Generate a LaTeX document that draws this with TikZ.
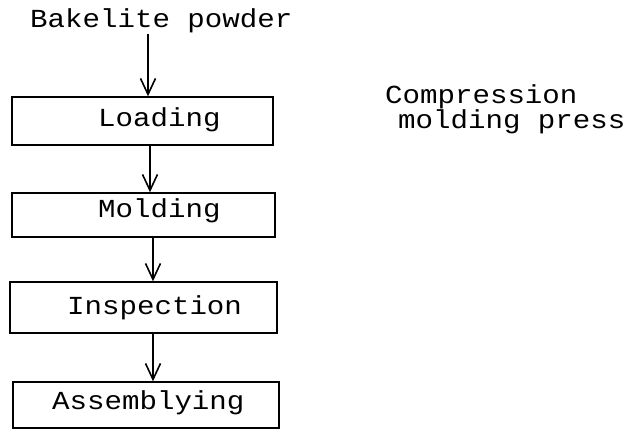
\documentclass[tikz,border=0pt]{standalone}
\usepackage{fontspec}
\setmainfont[FakeStretch=1.12]{Liberation Mono}
\usetikzlibrary{arrows.meta}
\begin{document}
\begin{tikzpicture}[x=1pt,y=-1pt,
  box/.style={draw, line width=1.4pt, inner sep=0pt},
  lbl/.style={anchor=base west, inner sep=0pt, font=\fontsize{26}{30}\selectfont},
  flow/.style={-{Straight Barb[length=16pt,width=15pt]}, line width=1.6pt}]
\useasboundingbox (0,0) rectangle (641,430);
% boxes
\node[box, minimum width=261pt, minimum height=48pt] (load) at (142.5,121) {};
\node[box, minimum width=263pt, minimum height=44pt] (mold) at (143.5,215) {};
\node[box, minimum width=267pt, minimum height=51pt] (insp) at (143.5,307.5) {};
\node[box, minimum width=266pt, minimum height=46pt] (asm) at (146,405) {};
% texts
\node[lbl] (bak) at (30,28) {Bakelite powder};
\node[lbl] (tload) at (98,127) {Loading};
\node[lbl] (tmold) at (98,218) {Molding};
\node[lbl] (tinsp) at (67,315) {Inspection};
\node[lbl] (tasm) at (52,410) {Assemblying};
\node[lbl, align=left, font=\fontsize{26}{22}\selectfont] (comp) at (385,129)
  {Compression\\\hspace*{13pt}molding press};
% arrows
\draw[flow] (bak.south -| 148,0) -- (load.north -| 148,0);
\draw[flow] (load.south -| 150,0) -- (mold.north -| 150,0);
\draw[flow] (mold.south -| 153,0) -- (insp.north -| 153,0);
\draw[flow] (insp.south -| 153,0) -- (asm.north -| 153,0);
\end{tikzpicture}
\end{document}
